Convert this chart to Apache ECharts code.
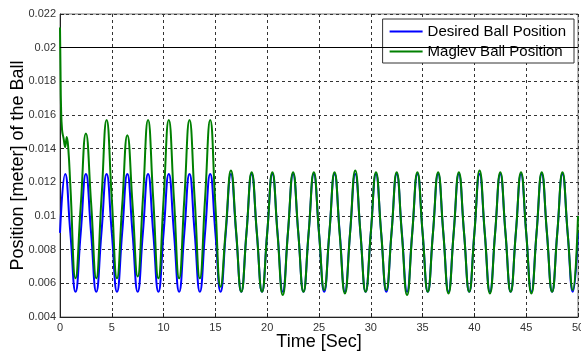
<!DOCTYPE html>
<html>
<head>
<meta charset="utf-8">
<script src="https://cdn.jsdelivr.net/npm/echarts@6/dist/echarts.min.js"></script>
<style>
  html, body { margin: 0; padding: 0; background: #fff; }
  #chart { width: 581px; height: 352px; }
</style>
</head>
<body>
<div id="chart"></div>
<script>
const seriesNames = ["Desired Ball Position", "Maglev Ball Position"];
const xTicks = [0, 5, 10, 15, 20, 25, 30, 35, 40, 45, 50];

// [time (s), position (m)]
const desired = [
  [0,0.009],[0.5,0.0125],[1,0.009],[1.5,0.0055],
  [2,0.009],[2.5,0.0125],[3,0.009],[3.5,0.0055],
  [4,0.009],[4.5,0.0125],[5,0.009],[5.5,0.0055],
  [6,0.009],[6.5,0.0125],[7,0.009],[7.5,0.0055],
  [8,0.009],[8.5,0.0125],[9,0.009],[9.5,0.0055],
  [10,0.009],[10.5,0.0125],[11,0.009],[11.5,0.0055],
  [12,0.009],[12.5,0.0125],[13,0.009],[13.5,0.0055],
  [14,0.009],[14.5,0.0125],[15,0.009],[15.5,0.0055],
  [16,0.009],[16.5,0.0125],[17,0.009],[17.5,0.0055],
  [18,0.009],[18.5,0.0125],[19,0.009],[19.5,0.0055],
  [20,0.009],[20.5,0.0125],[21,0.009],[21.5,0.0055],
  [22,0.009],[22.5,0.0125],[23,0.009],[23.5,0.0055],
  [24,0.009],[24.5,0.0125],[25,0.009],[25.5,0.0055],
  [26,0.009],[26.5,0.0125],[27,0.009],[27.5,0.0055],
  [28,0.009],[28.5,0.0125],[29,0.009],[29.5,0.0055],
  [30,0.009],[30.5,0.0125],[31,0.009],[31.5,0.0055],
  [32,0.009],[32.5,0.0125],[33,0.009],[33.5,0.0055],
  [34,0.009],[34.5,0.0125],[35,0.009],[35.5,0.0055],
  [36,0.009],[36.5,0.0125],[37,0.009],[37.5,0.0055],
  [38,0.009],[38.5,0.0125],[39,0.009],[39.5,0.0055],
  [40,0.009],[40.5,0.0125],[41,0.009],[41.5,0.0055],
  [42,0.009],[42.5,0.0125],[43,0.009],[43.5,0.0055],
  [44,0.009],[44.5,0.0125],[45,0.009],[45.5,0.0055],
  [46,0.009],[46.5,0.0125],[47,0.009],[47.5,0.0055],
  [48,0.009],[48.5,0.0125],[49,0.009],[49.5,0.0055],
  [50,0.009]
];

const maglev = [
  [0,0.0212],[0.05,0.0186],[0.1,0.0165],[0.2,0.0151],[0.35,0.0146],[0.5,0.0141],
  [0.65,0.0147],[0.8,0.0140],[1,0.0118],[1.5,0.0063],
  [2,0.0106],[2.5,0.0149],[3,0.0108],[3.5,0.0063],
  [4,0.0110],[4.5,0.0157],[5,0.0110],[5.5,0.0063],
  [6,0.0106],[6.5,0.0148],[7,0.0107],[7.5,0.0064],
  [8,0.0110],[8.5,0.0157],[9,0.0110],[9.5,0.0063],
  [10,0.0110],[10.5,0.0157],[11,0.0110],[11.5,0.0063],
  [12,0.0110],[12.5,0.0157],[13,0.0110],[13.5,0.0063],
  [14,0.0110],[14.5,0.0157],[15,0.0106],[15.5,0.0058],
  [16,0.0092],[16.5,0.0127],[17,0.0091],[17.5,0.0055],
  [18,0.0090],[18.5,0.0126],[19,0.0090],[19.5,0.0055],
  [20,0.0090],[20.5,0.0126],[21,0.0089],[21.5,0.0053],
  [22,0.0090],[22.5,0.0126],[23,0.0090],[23.5,0.0055],
  [24,0.0090],[24.5,0.0126],[25,0.0090],[25.5,0.0056],
  [26,0.0090],[26.5,0.0126],[27,0.0089],[27.5,0.0054],
  [28,0.0090],[28.5,0.0127],[29,0.0090],[29.5,0.0055],
  [30,0.0090],[30.5,0.0126],[31,0.0090],[31.5,0.0056],
  [32,0.0090],[32.5,0.0126],[33,0.0089],[33.5,0.0053],
  [34,0.0090],[34.5,0.0126],[35,0.0090],[35.5,0.0055],
  [36,0.0090],[36.5,0.0126],[37,0.0090],[37.5,0.0054],
  [38,0.0090],[38.5,0.0126],[39,0.0090],[39.5,0.0055],
  [40,0.0090],[40.5,0.0127],[41,0.0090],[41.5,0.0054],
  [42,0.0090],[42.5,0.0126],[43,0.0090],[43.5,0.0055],
  [44,0.0090],[44.5,0.0126],[45,0.0090],[45.5,0.0054],
  [46,0.0090],[46.5,0.0126],[47,0.0090],[47.5,0.0055],
  [48,0.0090],[48.5,0.0126],[49,0.0090],[49.5,0.0056],
  [50,0.0100]
];

const font = "'Liberation Sans', Arial, sans-serif";
const gridLine = { show: true, lineStyle: { color: "#333", type: [3, 3], width: 1 } };

const chart = echarts.init(document.getElementById("chart"));
chart.setOption({
  animation: false,
  textStyle: { fontFamily: font },
  grid: {
    left: 60, right: 3, top: 14, bottom: 35,
    outerBoundsMode: "none",
    containLabel: false,
    show: true, borderColor: "#777", borderWidth: 1, backgroundColor: "#fff"
  },
  legend: {
    data: seriesNames,
    orient: "vertical",
    right: 7, top: 19,
    icon: "rect",
    itemWidth: 33, itemHeight: 2, itemGap: 3,
    padding: [4, 8, 3, 7],
    backgroundColor: "#fff",
    borderColor: "#333", borderWidth: 1, borderRadius: 0,
    textStyle: { fontSize: 15, color: "#000", fontFamily: font, lineHeight: 17 }
  },
  xAxis: {
    type: "value",
    min: 0, max: 50, interval: 5,
    name: "Time [Sec]",
    nameLocation: "middle",
    nameGap: 16,
    nameMoveOverlap: false,
    nameTextStyle: { fontSize: 18, color: "#000", fontFamily: font },
    axisLine: { lineStyle: { color: "#222" } },
    axisTick: { inside: true, length: 4, lineStyle: { color: "#222" } },
    axisLabel: {
      color: "#333", fontSize: 11, margin: 5,
      formatter: v => (xTicks.includes(v) ? String(v) : "")
    },
    splitLine: gridLine
  },
  yAxis: {
    type: "value",
    min: 0.004, max: 0.022, interval: 0.002,
    name: "Position [meter] of the Ball",
    nameLocation: "middle",
    nameGap: 33,
    nameMoveOverlap: false,
    nameTextStyle: { fontSize: 18, color: "#000", fontFamily: font },
    axisLine: { show: true, lineStyle: { color: "#222" } },
    axisTick: { show: true, inside: true, length: 4, lineStyle: { color: "#222" } },
    axisLabel: {
      color: "#333", fontSize: 11, margin: 4,
      formatter: v => String(+v.toFixed(3))
    },
    splitLine: gridLine
  },
  series: [
    {
      name: seriesNames[0],
      type: "line",
      data: desired,
      smooth: 0.5,
      showSymbol: false,
      symbol: "none",
      lineStyle: { color: "#0000ff", width: 2 },
      itemStyle: { color: "#0000ff" },
      markLine: {
        silent: true,
        symbol: "none",
        label: { show: false },
        lineStyle: { color: "#000", type: "solid", width: 1 },
        data: [{ yAxis: 0.02 }]
      }
    },
    {
      name: seriesNames[1],
      type: "line",
      data: maglev,
      smooth: 0.5,
      showSymbol: false,
      symbol: "none",
      lineStyle: { color: "#008000", width: 2 },
      itemStyle: { color: "#008000" }
    }
  ]
});
window.addEventListener("resize", () => chart.resize());
</script>
</body>
</html>
